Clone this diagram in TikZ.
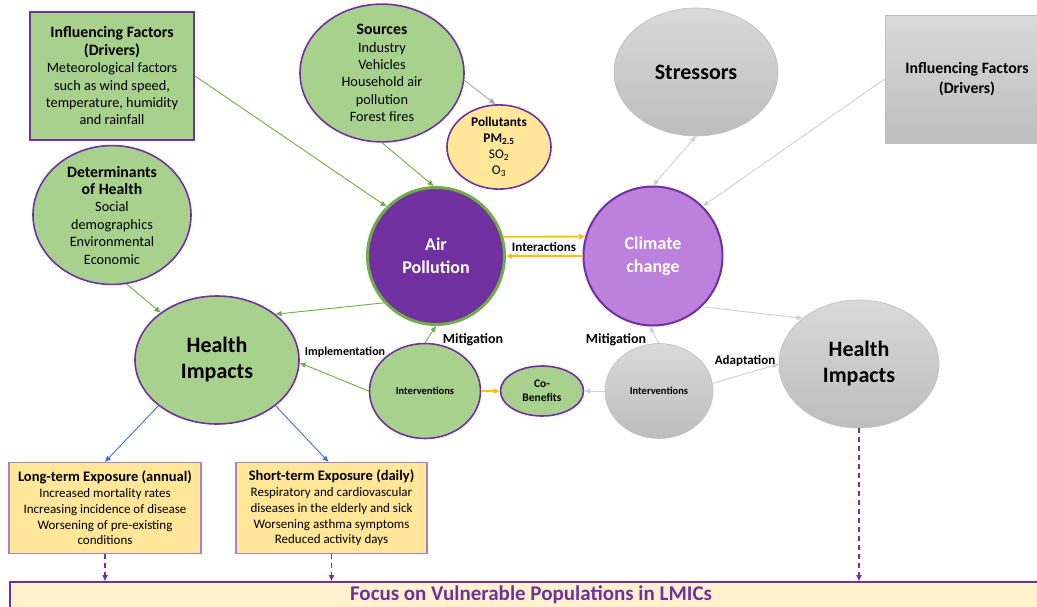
\documentclass[tikz,border=0pt]{standalone}
\usepackage{fontspec}
\setmainfont{Carlito}
\usetikzlibrary{shapes.geometric,arrows.meta,calc}
\definecolor{gfill}{HTML}{A9D18E}
\definecolor{pur}{HTML}{7030A0}
\definecolor{gbord}{HTML}{70AD47}
\definecolor{yel}{HTML}{FFE699}
\definecolor{lyel}{HTML}{FFF2CC}
\definecolor{clim}{HTML}{BC80DD}
\definecolor{orng}{HTML}{FFC000}
\definecolor{blu}{HTML}{4472C4}
\definecolor{garr}{HTML}{A6A6A6}
\definecolor{larr}{HTML}{D0D0D0}
\definecolor{gtop}{HTML}{D9D9D9}
\definecolor{gbot}{HTML}{BDBDBD}
\definecolor{lpur}{HTML}{A682C8}
\tikzset{
  greenell/.style={ellipse, draw=pur, line width=1.6pt, fill=gfill, inner sep=0pt, align=center},
  grayell/.style={ellipse, draw=gbot, line width=0.6pt, top color=gtop, bottom color=gbot, inner sep=0pt, align=center},
  yelbox/.style={rectangle, draw=lpur, line width=1.2pt, fill=yel, inner sep=0pt, align=center},
  body/.style={font=\fontsize{14.3}{17.4}\selectfont},
  tip/.style={-{Triangle[length=6pt,width=5pt]}},
  garrow/.style={tip, draw=gbord, line width=0.9pt},
  grarrow/.style={tip, draw=larr, line width=0.9pt},
  barrow/.style={tip, draw=blu, line width=0.9pt},
  oarrow/.style={tip, draw=orng, line width=1.8pt},
  darrow/.style={tip, draw=pur, line width=1.5pt, dash pattern=on 5pt off 4pt},
  lbl/.style={font=\bfseries\fontsize{13}{15}\selectfont, inner sep=0pt},
}
\newcommand{\ttl}[1]{{\bfseries\fontsize{15.8}{17.4}\selectfont #1}}
\begin{document}
\begin{tikzpicture}[x=1pt,y=-1pt]
\useasboundingbox (0,0) rectangle (1037,606);
\clip (0,0) rectangle (1037,606);

% left influencing factors box
\node[rectangle, draw=pur, line width=2pt, fill=gfill, minimum width=164, minimum height=128, align=center, body, inner sep=0pt] (lbox) at (112,76)
  {\ttl{Influencing Factors}\\\ttl{(Drivers)}\\Meteorological factors\\such as wind speed,\\temperature, humidity\\and rainfall};

% sources
\node[greenell, minimum width=164, minimum height=128, body] (src) at (382,73)
  {\ttl{Sources}\\Industry\\Vehicles\\Household air\\pollution\\Forest fires};

% pollutants
\node[ellipse, draw=pur, line width=1.6pt, fill=yel, minimum width=104, minimum height=77, inner sep=0pt, align=center, font=\fontsize{13.3}{16}\selectfont] (pol) at (499,147)
  {\textbf{Pollutants}\\\textbf{PM\textsubscript{2.5}}\\SO\textsubscript{2}\\O\textsubscript{3}};

% determinants
\node[greenell, minimum width=158, minimum height=132, body] (det) at (112,215)
  {\ttl{Determinants}\\\ttl{of Health}\\Social\\demographics\\Environmental\\Economic};

% air pollution
\node[circle, draw=gbord, line width=3pt, fill=pur, minimum size=137, inner sep=0pt, align=center, text=white, font=\bfseries\fontsize{18}{23}\selectfont] (air) at (436,256)
  {Air\\Pollution};

% climate change
\node[circle, draw=pur, line width=2pt, fill=clim, minimum size=139, inner sep=0pt, align=center, text=white, font=\bfseries\fontsize{18}{23}\selectfont] (clim) at (653,256)
  {Climate\\change};

% stressors
\node[grayell, minimum width=164, minimum height=128, font=\bfseries\fontsize{22}{26}\selectfont] (str) at (696,72) {Stressors};

% right influencing factors
\node[rectangle, draw=gbot, line width=0.6pt, top color=gtop, bottom color=gbot, minimum width=164, minimum height=128, inner sep=0pt, align=center, font=\bfseries\fontsize{15.8}{20}\selectfont] (rbox) at (967,79)
  {Influencing Factors\\(Drivers)};

% health impacts left
\node[greenell, minimum width=164, minimum height=128, font=\bfseries\fontsize{22}{26}\selectfont] (hl) at (217,360) {Health\\Impacts};

% interventions left
\node[greenell, minimum width=111, minimum height=95, font=\bfseries\fontsize{10.5}{12}\selectfont] (il) at (425,391) {Interventions};

% co-benefits
\node[greenell, minimum width=83, minimum height=50, font=\bfseries\fontsize{11.5}{14}\selectfont] (cob) at (542,391) {Co-\\Benefits};

% interventions right
\node[grayell, minimum width=108, minimum height=95, font=\bfseries\fontsize{10.5}{12}\selectfont] (ir) at (659,391) {Interventions};

% health impacts right
\node[grayell, minimum width=160, minimum height=128, font=\bfseries\fontsize{22}{26}\selectfont] (hr) at (859,364) {Health\\Impacts};

% exposure boxes
\node[yelbox, minimum width=192, minimum height=91, font=\fontsize{13}{15.8}\selectfont] (lt) at (105,508)
  {{\bfseries\fontsize{14.5}{15.8}\selectfont Long-term Exposure (annual)}\\Increased mortality rates\\Increasing incidence of disease\\Worsening of pre-existing\\conditions};
\node[yelbox, minimum width=191, minimum height=91, font=\fontsize{13}{15.8}\selectfont] (st) at (331.5,508)
  {{\bfseries\fontsize{14.5}{15.8}\selectfont Short-term Exposure (daily)}\\Respiratory and cardiovascular\\diseases in the elderly and sick\\Worsening asthma symptoms\\Reduced activity days};

% bottom bar
\node[rectangle, draw=pur, line width=2pt, fill=lyel, minimum width=1040, minimum height=40, anchor=north west, inner sep=0pt] (bar) at (9,581) {};
\node[anchor=base, text=pur, font=\bfseries\fontsize{21}{24}\selectfont, inner sep=0pt] (bartxt) at (531,600.5) {Focus on Vulnerable Populations in LMICs};

% arrows: green
\draw[garrow] (lbox.east) -- (air.135);
\draw[garrow] (src.south) -- (air.92);
\draw[tip, draw=garr, line width=0.9pt] (src.-5) -- (pol.95);
\draw[garrow] (det.282) -- (hl.140);
\draw[garrow] (air.222) -- (hl.38);
\draw[garrow] (il.west) -- (hl.-2);
\node[lbl, font=\bfseries\fontsize{12}{14}\selectfont] (impl) at (345,352) {Implementation};
\draw[garrow] (il.north) -- (air.south);
\node[lbl, font=\bfseries\fontsize{14}{16}\selectfont] (mitl) at (473,340) {Mitigation};
\draw[tip, draw=orng, line width=1.5pt] (il.east) -- (cob.west);

% gray arrows
\draw[grarrow] (ir.west) -- (cob.east);
\draw[grarrow] (ir.north) -- (clim.267);
\node[lbl, font=\bfseries\fontsize{14}{16}\selectfont] (mitr) at (616,340) {Mitigation};
\draw[grarrow] (ir.8) -- (hr.west);
\node[lbl] (adap) at (745,361) {Adaptation};
\draw[grarrow] (clim.-46) -- (hr.141);
\draw[grarrow, {Triangle[length=6pt,width=5pt]}-{Triangle[length=6pt,width=5pt]}] (str.south) -- (clim.north);
\draw[grarrow] (rbox.west) -- (clim.45);

% interactions
\draw[oarrow] (air.16) -- (clim.164);
\draw[oarrow] (clim.west) -- (air.east);
\node[lbl] (inter) at (544,247) {Interactions};

% blue arrows
\draw[barrow] (hl.218) -- (lt.north);
\draw[barrow] (hl.-38) -- ($(st.north)+(-3,0)$);

% dashed purple
\draw[darrow] (lt.south) -- (lt.south |- bar.north);
\draw[darrow] (st.south) -- (st.south |- bar.north);
\draw[darrow] (hr.south) -- (hr.south |- bar.north);
\end{tikzpicture}
\end{document}
